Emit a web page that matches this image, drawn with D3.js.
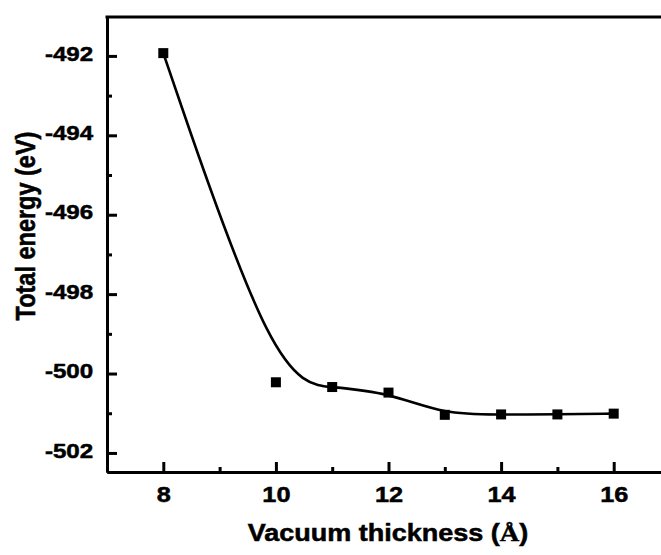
<!DOCTYPE html>
<html>
<head>
<meta charset="utf-8">
<script src="https://cdn.jsdelivr.net/npm/d3@7"></script>
<style>
  body { margin: 0; background: #fff; }
  svg { display: block; }
  text { stroke: #000; stroke-width: 0.5px; }
</style>
</head>
<body>
<svg id="chart"></svg>
<script>
const thickness = [8, 10, 11, 12, 13, 14, 15, 16]
const energy = [-491.93, -500.22, -500.34, -500.48, -501.04, -501.03, -501.03, -501.01]
const xTicks = [8, 10, 12, 14, 16]
const xMinor = [9, 11, 13, 15]
const yTicks = [-492, -494, -496, -498, -500, -502]
const yMinor = [-493, -495, -497, -499, -501]

const width = 661, height = 555
const MARGIN = { top: 17, right: -9, bottom: 83, left: 107 }
const FONT = '"Liberation Sans", Arial, sans-serif'
const STRETCH = 1.15  // the glyphs in the original look a bit wide

const $svg = d3.select('#chart').attr('width', width).attr('height', height)

const xScale = d3.scaleLinear()
  .domain([7, 17])
  .range([MARGIN.left, width - MARGIN.right])
const yScale = d3.scaleLinear()
  .domain([-502.48, -491.02])
  .range([height - MARGIN.bottom, MARGIN.top])

const data = thickness.map((t, i) => ({ x: t, y: energy[i] }))

// smoothed B-spline through the points
const line = d3.line()
  .x(d => xScale(d.x))
  .y(d => yScale(d.y))
  .curve(d3.curveBasis)

$svg.append('path')
  .datum(data)
  .attr('d', line)
  .attr('fill', 'none')
  .attr('stroke', '#000')
  .attr('stroke-width', 2.6)

$svg.selectAll('.marker')
  .data(data)
  .enter()
  .append('rect')
    .attr('class', 'marker')
    .attr('x', d => xScale(d.x) - 5)
    .attr('y', d => yScale(d.y) - 5)
    .attr('width', 10)
    .attr('height', 10)
    .attr('fill', '#000')

// axes: ticks inward
const xAxis = d3.axisBottom(xScale).tickValues(xTicks).tickSize(-10).tickPadding(14).tickSizeOuter(0)
const xAxisMinor = d3.axisBottom(xScale).tickValues(xMinor).tickSize(-5).tickFormat('').tickSizeOuter(0)
const yAxis = d3.axisLeft(yScale).tickValues(yTicks).tickSize(-10).tickPadding(12).tickSizeOuter(0)
const yAxisMinor = d3.axisLeft(yScale).tickValues(yMinor).tickSize(-5).tickFormat('').tickSizeOuter(0)

const gx = $svg.append('g').attr('transform', `translate(0, ${height - MARGIN.bottom})`).call(xAxis)
$svg.append('g').attr('transform', `translate(0, ${height - MARGIN.bottom})`).call(xAxisMinor)
const gy = $svg.append('g').attr('transform', `translate(${MARGIN.left}, 0)`).call(yAxis)
$svg.append('g').attr('transform', `translate(${MARGIN.left}, 0)`).call(yAxisMinor)

$svg.selectAll('.domain').attr('stroke-width', 3).attr('stroke', '#000')
$svg.selectAll('.tick line').attr('stroke-width', 3).attr('stroke', '#000')
$svg.selectAll('.tick text')
  .attr('font-family', FONT)
  .attr('font-weight', 'bold')
  .attr('fill', '#000')
  .attr('transform', `scale(${STRETCH},1)`)
gx.selectAll('.tick text').attr('font-size', 22).attr('dy', '0.71em')
gy.selectAll('.tick text').attr('font-size', 21).attr('dy', '0.2em').text(d => '-' + Math.abs(d))

// top frame line
$svg.append('line')
  .attr('x1', MARGIN.left - 1.5).attr('x2', width - MARGIN.right)
  .attr('y1', MARGIN.top).attr('y2', MARGIN.top)
  .attr('stroke', '#000').attr('stroke-width', 3)

$svg.append('text')
  .attr('font-family', FONT)
  .attr('font-weight', 'bold')
  .attr('font-size', 23.5)
  .attr('text-anchor', 'middle')
  .attr('transform', `translate(35, 226) scale(${STRETCH},1) rotate(-90)`)
  .text('Total energy (eV)')

const $xt = $svg.append('text')
  .attr('font-family', FONT)
  .attr('font-weight', 'bold')
  .attr('font-size', 23.5)
  .attr('text-anchor', 'middle')
  .attr('transform', `translate(388, 541) scale(${STRETCH},1)`)
$xt.append('tspan').text('Vacuum thickness (')
$xt.append('tspan').attr('font-family', '"Liberation Serif", "Times New Roman", serif').text('Å')
$xt.append('tspan').text(')')
</script>
</body>
</html>
